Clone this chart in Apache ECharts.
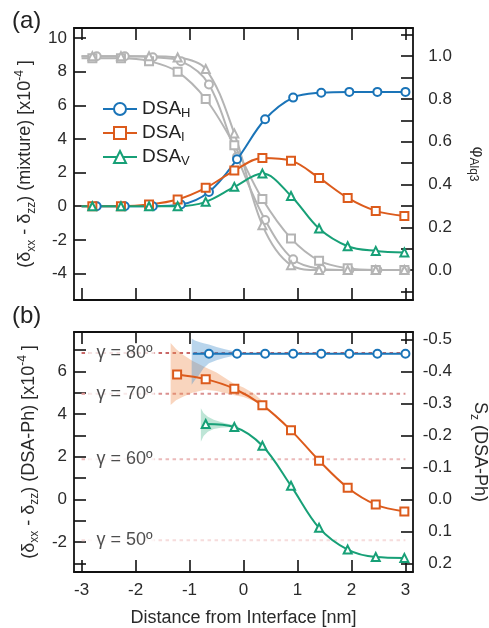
<!DOCTYPE html>
<html>
<head>
<meta charset="utf-8">
<script src="https://cdn.jsdelivr.net/npm/echarts@6/dist/echarts.min.js"></script>
<style>html,body{margin:0;padding:0;background:#fff}#c{width:489px;height:628px}</style>
</head>
<body>
<div id="c"></div>
<script>
// ---------- DATA ----------
// Panel (a): x positions
const xH = [-2.72, -2.2, -1.68, -1.16, -0.64, -0.12, 0.4, 0.92, 1.44, 1.96, 2.48, 3.0];
const xIV = [-2.8, -2.27, -1.75, -1.22, -0.7, -0.17, 0.35, 0.88, 1.4, 1.93, 2.45, 2.98];
// Panel (a): (δxx-δzz) mixture values
const mixH = [0, 0, 0, 0.1, 0.85, 2.79, 5.17, 6.46, 6.75, 6.8, 6.8, 6.8];
const mixI = [0, 0, 0.1, 0.4, 1.09, 2.12, 2.87, 2.71, 1.68, 0.49, -0.28, -0.59];
const mixV = [0, 0, 0, 0.0, 0.26, 1.15, 1.94, 0.61, -1.33, -2.38, -2.66, -2.75];
// Panel (a): φAlq3 (gray)
const phiH = [1.0, 1.0, 0.995, 0.977, 0.868, 0.53, 0.234, 0.05, 0.005, 0, 0, 0];
const phiI = [0.99, 0.99, 0.977, 0.927, 0.80, 0.584, 0.332, 0.148, 0.044, 0.008, 0, 0];
const phiV = [1.0, 1.0, 1.0, 0.994, 0.94, 0.639, 0.21, 0.023, 0, 0, 0, 0];
const fitStartA = -3;
// Panel (b)
const xbH = [-0.64, -0.12, 0.4, 0.92, 1.44, 1.96, 2.48, 3.0];
const phH = [6.83, 6.83, 6.83, 6.83, 6.83, 6.83, 6.83, 6.83];
const fitStartBH = -0.94;
const xbI = [-1.23, -0.7, -0.17, 0.35, 0.88, 1.4, 1.93, 2.45, 2.98];
const phI = [5.86, 5.64, 5.19, 4.42, 3.24, 1.82, 0.55, -0.24, -0.56];
const xbV = [-0.7, -0.17, 0.35, 0.88, 1.4, 1.93, 2.45, 2.98];
const phV = [3.54, 3.40, 2.52, 0.64, -1.33, -2.35, -2.70, -2.74];
// Uncertainty bands (panel b)
const bandHx = [-0.96, -0.9, -0.82, -0.74, -0.64, -0.5, -0.36, -0.2, -0.02];
const bandHup = [7.55, 7.45, 7.38, 7.32, 7.26, 7.15, 7.05, 6.96, 6.88];
const bandHlo = [5.38, 5.6, 5.85, 6.15, 6.39, 6.53, 6.63, 6.72, 6.79];
const bandIx = [-1.35, -1.25, -1.12, -0.95, -0.71, -0.5, -0.19, 0.0, 0.2, 0.4];
const bandIup = [7.33, 7.05, 6.78, 6.5, 6.2, 5.95, 5.45, 5.25, 4.95, 4.5];
const bandIlo = [4.43, 4.65, 4.82, 5.0, 5.14, 5.08, 4.9, 4.8, 4.6, 4.32];
const bandVx = [-0.79, -0.74, -0.66, -0.55, -0.42, -0.28, -0.1];
const bandVup = [4.28, 4.05, 3.88, 3.74, 3.63, 3.54, 3.45];
const bandVlo = [2.71, 2.98, 3.18, 3.3, 3.36, 3.39, 3.38];
// γ reference levels (panel b)
const gammaLabels = ['γ = 80º', 'γ = 70º', 'γ = 60º', 'γ = 50º'];
const gammaLevels = [6.86, 4.95, 1.88, -1.91];
const gammaRange = [-3, 3];
const gammaLabelX = -2.88;
// Ticks
const xTicks = [-3, -2, -1, 0, 1, 2, 3];
const yaTicks = [-4, -2, 0, 2, 4, 6, 8, 10];
const phiTicks = [-0.1, 0, 0.1, 0.2, 0.3, 0.4, 0.5, 0.6, 0.7, 0.8, 0.9, 1.0, 1.1];
const phiLabels = [0, 0.2, 0.4, 0.6, 0.8, 1.0];
const ybTicks = [-3, -2, -1, 0, 1, 2, 3, 4, 5, 6, 7];
const ybLabels = [-2, 0, 2, 4, 6];
const szTicks = [-0.5, -0.4, -0.3, -0.2, -0.1, 0, 0.1, 0.2];

// ---------- STYLE ----------
const FONT = 'Liberation Sans, Arial, sans-serif';
const cH = '#1a74b8', cI = '#dc5b1c', cV = '#17a077', cG = '#b4b4b4';
const gammaColors = ['#c96767', '#da9090', '#ebbaba', '#f6dcdc'];
const bandColors = ['rgba(70,145,205,0.38)', 'rgba(238,145,85,0.38)', 'rgba(40,170,120,0.3)'];
const AX = '#111';

function pts(xs, ys, start) {
  const d = xs.map((x, i) => [x, ys[i]]);
  if (start !== undefined) d.unshift({ value: [start, ys[0]], symbol: 'none' });
  return d;
}
const tickStyle = (vals) => ({ show: true, inside: true, length: 12, lineStyle: { color: AX, width: 1.6 }, customValues: vals });
const lineAx = { show: true, onZero: false, lineStyle: { color: AX, width: 1.8 } };
const labelTS = { fontFamily: FONT, fontSize: 17, color: '#2a2a2a' };
const nameRich = {
  sub: { fontFamily: FONT, fontSize: 12, lineHeight: 12, verticalAlign: 'bottom', color: '#2a2a2a' },
  sup: { fontFamily: FONT, fontSize: 12, lineHeight: 12, verticalAlign: 'top', color: '#2a2a2a' }
};
const nameTS = { fontFamily: FONT, fontSize: 18, color: '#2a2a2a', lineHeight: 24, rich: nameRich };

function xAx(grid, pos, labels, extra) {
  return Object.assign({
    type: 'value', gridIndex: grid, position: pos, min: -3.14, max: 3.14,
    axisLine: lineAx, axisTick: tickStyle(xTicks), splitLine: { show: false },
    axisLabel: labels ? Object.assign({ show: true, margin: 10, customValues: xTicks }, labelTS) : { show: false }
  }, extra || {});
}

function lineSeries(name, xs, ys, color, symbol, xi, yi, start, z) {
  return {
    type: 'line', name: name, xAxisIndex: xi, yAxisIndex: yi, data: pts(xs, ys, start),
    smooth: 0.35, symbol: symbol, symbolSize: 8, showAllSymbol: true, z: z || 3,
    color: color, lineStyle: { color: color, width: 2 },
    itemStyle: { color: color, borderColor: color, borderWidth: 1.4 },
    emphasis: { disabled: true }
  };
}

function bandSeries(xs, up, lo, color) {
  return {
    type: 'custom', xAxisIndex: 2, yAxisIndex: 2, z: 1, silent: true,
    data: [[xs[0], up[0]]],
    renderItem: function (params, api) {
      const p = [];
      for (let i = 0; i < xs.length; i++) p.push(api.coord([xs[i], up[i]]));
      for (let i = xs.length - 1; i >= 0; i--) p.push(api.coord([xs[i], lo[i]]));
      return { type: 'polygon', shape: { points: p }, style: { fill: color } };
    }
  };
}

const series = [];
series.push(lineSeries('phiH', xH, phiH, cG, 'emptyCircle', 0, 1, fitStartA, 2));
series.push(lineSeries('phiI', xIV, phiI, cG, 'emptyRect', 0, 1, fitStartA, 2));
series.push(lineSeries('phiV', xIV, phiV, cG, 'emptyTriangle', 0, 1, fitStartA, 2));
series.push(lineSeries('DSA_H', xH, mixH, cH, 'emptyCircle', 0, 0, fitStartA, 4));
series.push(lineSeries('DSA_I', xIV, mixI, cI, 'emptyRect', 0, 0, fitStartA, 4));
series.push(lineSeries('DSA_V', xIV, mixV, cV, 'emptyTriangle', 0, 0, fitStartA, 4));
series.push(bandSeries(bandIx, bandIup, bandIlo, bandColors[1]));
series.push(bandSeries(bandHx, bandHup, bandHlo, bandColors[0]));
series.push(bandSeries(bandVx, bandVup, bandVlo, bandColors[2]));
gammaLevels.forEach((v, i) => {
  series.push({
    type: 'line', xAxisIndex: 2, yAxisIndex: 2, z: 0, silent: true, symbol: 'none',
    data: [[gammaRange[0], v], [gammaRange[1], v]],
    lineStyle: { color: gammaColors[i], width: 2, type: [3.5, 3.5] }
  });
});
series.push({
  type: 'scatter', xAxisIndex: 2, yAxisIndex: 2, z: 5, silent: true, symbolSize: 1,
  itemStyle: { color: 'rgba(0,0,0,0)' },
  data: gammaLevels.map((v, i) => ({ value: [gammaLabelX, v], name: gammaLabels[i] })),
  label: {
    show: true, position: 'right', distance: 0, formatter: p => p.name,
    fontFamily: FONT, fontSize: 18, color: '#222', backgroundColor: '#fff', padding: [1, 2, 1, 8]
  }
});
series.push(lineSeries('bH', xbH, phH, cH, 'emptyCircle', 2, 2, fitStartBH, 4));
series.push(lineSeries('bI', xbI, phI, cI, 'emptyRect', 2, 2, undefined, 4));
series.push(lineSeries('bV', xbV, phV, cV, 'emptyTriangle', 2, 2, undefined, 4));

const subs = { DSA_H: 'H', DSA_I: 'I', DSA_V: 'V' };

const option = {
  animation: false,
  backgroundColor: '#fff',
  grid: [
    { left: 74, top: 28, width: 339, height: 272, outerBoundsMode: 'none', containLabel: false },
    { left: 74, top: 332, width: 339, height: 240, outerBoundsMode: 'none', containLabel: false }
  ],
  legend: {
    data: ['DSA_H', 'DSA_I', 'DSA_V'], orient: 'vertical', left: 97, top: 93,
    itemWidth: 34, itemHeight: 15, itemGap: 2, selectedMode: false,
    formatter: n => '{m|DSA}{s|' + subs[n] + '}',
    textStyle: {
      fontFamily: FONT, color: '#222', fontSize: 19, lineHeight: 22,
      rich: { m: { fontFamily: FONT, fontSize: 19, lineHeight: 22, color: '#222' },
              s: { fontFamily: FONT, fontSize: 13, lineHeight: 13, verticalAlign: 'bottom', color: '#222' } }
    }
  },
  xAxis: [
    xAx(0, 'bottom', false),
    xAx(0, 'top', false),
    xAx(1, 'bottom', true, {
      name: 'Distance from Interface [nm]', nameLocation: 'middle', nameGap: 37,
      nameTextStyle: { fontFamily: FONT, fontSize: 18, color: '#2a2a2a' }
    }),
    xAx(1, 'top', false)
  ],
  yAxis: [
    {
      type: 'value', gridIndex: 0, position: 'left', min: -5.58, max: 10.6,
      axisLine: lineAx, axisTick: tickStyle(yaTicks), splitLine: { show: false },
      axisLabel: Object.assign({ margin: 7, customValues: yaTicks }, labelTS),
      name: '(δ{sub|xx} - δ{sub|zz}) (mixture) [x10{sup|-4} ]',
      nameLocation: 'middle', nameRotate: 90, nameGap: 33, nameTextStyle: nameTS
    },
    {
      type: 'value', gridIndex: 0, position: 'right', min: -0.14, max: 1.132,
      axisLine: lineAx, axisTick: tickStyle(phiTicks), splitLine: { show: false },
      axisLabel: Object.assign({ margin: 39, align: 'right', customValues: phiLabels, formatter: v => v.toFixed(1) }, labelTS),
      name: 'φ{sub|Alq3}', nameLocation: 'middle', nameRotate: -90, nameGap: 54,
      nameTextStyle: { fontFamily: FONT, fontSize: 17, color: '#2a2a2a', lineHeight: 22, rich: nameRich }
    },
    {
      type: 'value', gridIndex: 1, position: 'left', min: -3.40, max: 7.85,
      axisLine: lineAx, axisTick: tickStyle(ybTicks), splitLine: { show: false },
      axisLabel: Object.assign({ margin: 7, customValues: ybLabels }, labelTS),
      name: '(δ{sub|xx} - δ{sub|zz}) (DSA-Ph) [x10{sup|-4} ]',
      nameLocation: 'middle', nameRotate: 90, nameGap: 33, nameTextStyle: nameTS
    },
    {
      type: 'value', gridIndex: 1, position: 'right', inverse: true, min: -0.523, max: 0.227,
      axisLine: lineAx, axisTick: tickStyle(szTicks), splitLine: { show: false },
      axisLabel: Object.assign({ margin: 39, align: 'right', customValues: szTicks, formatter: v => v.toFixed(1) }, labelTS),
      name: 'S{sub|z} (DSA-Ph)', nameLocation: 'middle', nameRotate: -90, nameGap: 55,
      nameTextStyle: nameTS
    }
  ],
  graphic: [
    { type: 'text', left: 12, top: 9, style: { text: '(a)', font: '24px ' + FONT, fill: '#222' } },
    { type: 'text', left: 12, top: 304, style: { text: '(b)', font: '24px ' + FONT, fill: '#222' } }
  ],
  series: series
};

const chart = echarts.init(document.getElementById('c'), null, { renderer: 'canvas' });
chart.setOption(option);
</script>
</body>
</html>
